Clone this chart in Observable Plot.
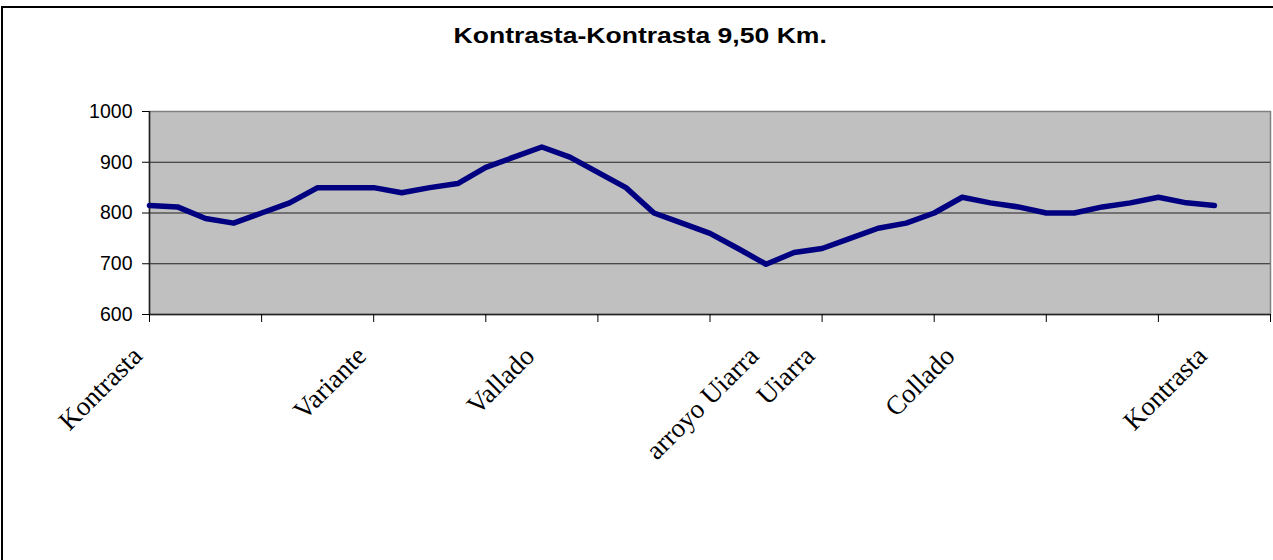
<!DOCTYPE html>
<html>
<head>
<meta charset="utf-8">
<script src="https://cdn.jsdelivr.net/npm/d3@7"></script>
<script src="https://cdn.jsdelivr.net/npm/@observablehq/plot@0.6"></script>
<style>
  html, body { margin: 0; padding: 0; background: #fff; }
  #wrap { position: relative; width: 1273px; height: 560px; overflow: hidden; }
  #frame { position: absolute; left: 1px; top: 6px; width: 1400px; height: 700px;
           border-left: 2px solid #000; border-top: 2px solid #000; box-sizing: border-box; }
  #title { position: absolute; left: 0; top: 25px; width: 1280px; text-align: center;
           font: bold 22.5px "Liberation Sans", Arial, sans-serif; line-height: 22px; color: #000; }
  #title span { display: inline-block; transform: scaleX(1.18); transform-origin: center; }
  #chart { position: absolute; left: 0; top: 0; }
</style>
</head>
<body>
<div id="wrap">
  <div id="chart"></div>
  <div id="frame"></div>
  <div id="title"><span id="titleText"></span></div>
</div>
<script>
const titleText = "Kontrasta-Kontrasta 9,50 Km.";

// elevation (m) at each category
const elevation = [815, 812, 789, 780, 800, 820, 850, 850, 850, 840, 850, 858, 890, 910, 930,
  910, 880, 850, 800, 780, 760, 730, 699, 722, 730, 750, 770, 780, 800, 831, 820, 812, 800,
  800, 812, 820, 831, 820, 815];

// category labels (41 categories; most unnamed)
const categoryLabels = [
  "Kontrasta", "", "", "", "", "", "", "", "Variante", "", "", "", "", "", "Vallado",
  "", "", "", "", "", "", "", "arroyo Uiarra", "", "Uiarra", "", "", "", "", "Collado",
  "", "", "", "", "", "", "", "", "Kontrasta", "", ""
];

const yTicks = [600, 700, 800, 900, 1000];
const tickEvery = 4;

document.getElementById("titleText").textContent = titleText;

const points = elevation.map((v, i) => ({i, v}));
const named = categoryLabels.map((name, i) => ({i, name})).filter(d => d.name);
const xTicks = d3.range(0, categoryLabels.length, tickEvery);

const chart = Plot.plot({
  width: 1273,
  height: 560,
  marginLeft: 149,
  marginRight: 3,
  marginTop: 111,
  marginBottom: 246,
  style: {fontFamily: "'Liberation Sans', Arial, sans-serif", fontSize: "19.5px", color: "#000", background: "transparent", overflow: "visible"},
  x: {domain: [0, categoryLabels.length - 1]},
  y: {domain: [yTicks[0], yTicks[yTicks.length - 1]]},
  marks: [
    Plot.frame({fill: "#c0c0c0", stroke: "#808080", strokeWidth: 1.5}),
    Plot.ruleY(yTicks.slice(1, -1), {stroke: "#222", strokeWidth: 1}),
    Plot.ruleX([0], {stroke: "#222", strokeWidth: 1.5}),
    Plot.ruleY([yTicks[0]], {stroke: "#222", strokeWidth: 1.5}),
    Plot.axisY({ticks: yTicks, tickSize: 7, tickPadding: 10, tickFormat: d => String(d), label: null, fontSize: 19.5}),
    Plot.axisX({ticks: xTicks, tickSize: 8, tickFormat: () => "", label: null}),
    Plot.line(points, {x: "i", y: "v", stroke: "#000080", strokeWidth: 5.5, strokeLinecap: "round", strokeLinejoin: "round"}),
    Plot.text(named, {x: "i", text: "name", frameAnchor: "bottom", rotate: -45, textAnchor: "end", lineAnchor: "middle",
      dx: -12, dy: 37, fontSize: 27, fontFamily: "'Liberation Serif', 'Times New Roman', serif", fill: "#000"})
  ]
});
document.getElementById("chart").appendChild(chart);
</script>
</body>
</html>
